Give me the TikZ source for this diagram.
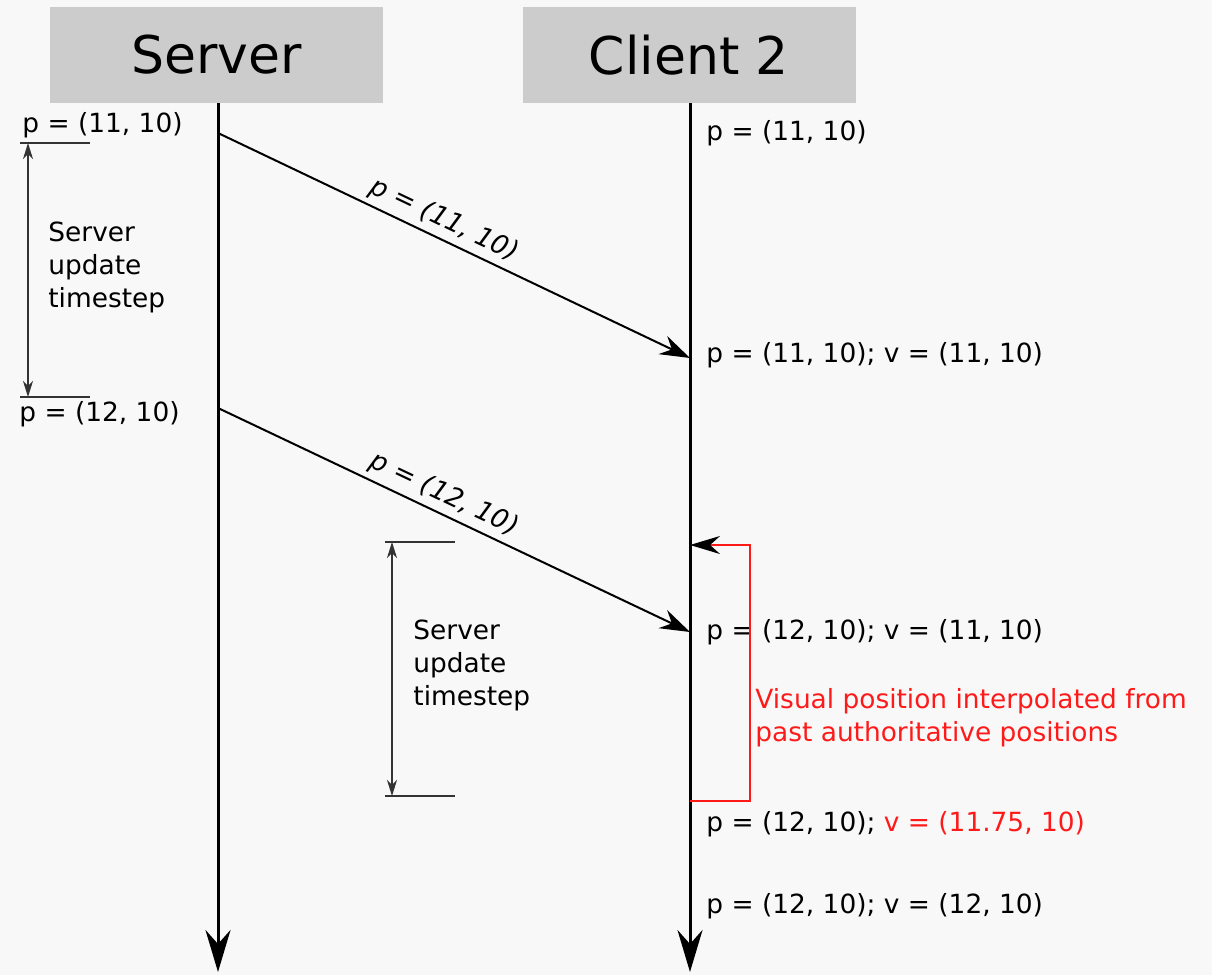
\documentclass[tikz,border=0pt]{standalone}
\usepackage{fontspec}
\setmainfont{DejaVu Sans}
\usetikzlibrary{arrows.meta}
\definecolor{bg}{HTML}{F8F8F8}
\definecolor{headfill}{HTML}{CCCCCC}
\definecolor{dimgray}{HTML}{333333}
\definecolor{note}{HTML}{FF1A1A}
\tikzset{
  head/.style={fill=headfill, minimum width=166.5pt, minimum height=48pt, inner sep=0pt,
               font=\fontsize{26}{30}\selectfont},
  lifeline/.style={line width=1.5pt, -{Stealth[length=21pt, width=12.5pt, inset=7pt]}},
  msg/.style={line width=1pt, -{Stealth[length=15pt, width=10pt, inset=5pt]}},
  lbl/.style={font=\fontsize{13.2}{16.5}\selectfont, inner sep=0pt},
  msglbl/.style={font=\fontsize{13.2}{16.5}\selectfont\itshape, sloped, above, inner sep=2.5pt},
  tick/.style={dimgray, line width=0.75pt},
  span/.style={dimgray, line width=0.75pt, {Stealth[length=8pt, width=5pt, inset=2.5pt]}-{Stealth[length=8pt, width=5pt, inset=2.5pt]}},
  interp/.style={note, line width=1pt, -{Stealth[black, length=15pt, width=9pt, inset=5pt]}}
}
\begin{document}
\begin{tikzpicture}[x=0.5pt, y=-0.5pt]
  % canvas
  \fill[bg] (0,0) rectangle (1212,975);
  \useasboundingbox (0,0) rectangle (1212,975);

  % participants
  \node[head] (server) at (216.5,55) {Server};
  \node[head] (client) at (689,55) {Client 2};

  % lifelines
  \coordinate (sEnd) at (218,972);
  \coordinate (cEnd) at (690,972);
  \coordinate (sTop) at (218,103);
  \coordinate (cTop) at (690,103);
  \draw[lifeline] (sTop) -- (sEnd);
  \draw[lifeline] (cTop) -- (cEnd);

  % messages from server to client
  \coordinate (s1) at (218,133);
  \coordinate (c1) at (690,358);
  \coordinate (s2) at (218,408);
  \coordinate (c2) at (690,632);
  \draw[msg] (s1) -- node[msglbl, pos=0.462] {p = (11, 10)} (c1);
  \draw[msg] (s2) -- node[msglbl, pos=0.462] {p = (12, 10)} (c2);

  % server state labels
  \node[lbl, anchor=west] (sp1) at (22,125) {p = (11, 10)};
  \node[lbl, anchor=west] (sp2) at (19,414) {p = (12, 10)};

  % first server timestep span
  \coordinate (t1a) at (20,143);  \coordinate (t1b) at (90,143);
  \coordinate (t2a) at (20,397);  \coordinate (t2b) at (90,397);
  \coordinate (a1) at (28,143);   \coordinate (a2) at (28,397);
  \draw[tick] (t1a) -- (t1b);
  \draw[tick] (t2a) -- (t2b);
  \draw[span] (a1) -- (a2);
  \node[lbl, anchor=west, align=left] (ts1) at (48,267) {Server\\update\\timestep};

  % second server timestep span
  \coordinate (u1a) at (385,542); \coordinate (u1b) at (455,542);
  \coordinate (u2a) at (385,796); \coordinate (u2b) at (455,796);
  \coordinate (b1) at (392,542);  \coordinate (b2) at (392,796);
  \draw[tick] (u1a) -- (u1b);
  \draw[tick] (u2a) -- (u2b);
  \draw[span] (b1) -- (b2);
  \node[lbl, anchor=west, align=left] (ts2) at (413,665) {Server\\update\\timestep};

  % client state labels
  \node[lbl, anchor=west] (cp1) at (706,133) {p = (11, 10)};
  \node[lbl, anchor=west] (cp2) at (706,355) {p = (11, 10); v = (11, 10)};
  \node[lbl, anchor=west] (cp3) at (706,632) {p = (12, 10); v = (11, 10)};
  \node[lbl, anchor=west] (cp4) at (706,824) {p = (12, 10); \textcolor{note}{v = (11.75, 10)}};
  \node[lbl, anchor=west] (cp5) at (706,906) {p = (12, 10); v = (12, 10)};

  % interpolation bracket
  \coordinate (r0) at (690,801);
  \coordinate (r1) at (750,801);
  \coordinate (r2) at (750,545);
  \coordinate (r3) at (690,545);
  \draw[interp] (r0) -- (r1) -- (r2) -- (r3);
  \node[lbl, anchor=west, align=left, text=note] (interpnote) at (755,718)
    {Visual position interpolated from\\past authoritative positions};
\end{tikzpicture}
\end{document}
